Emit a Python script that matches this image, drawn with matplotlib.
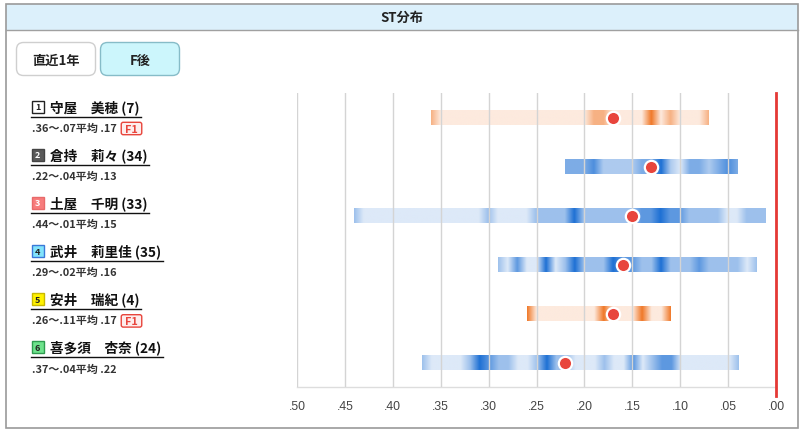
import numpy as np
import matplotlib
matplotlib.use("Agg")
import matplotlib.pyplot as plt
from matplotlib.patches import Rectangle, FancyBboxPatch
import matplotlib.transforms as mtransforms

plt.rcParams['font.family'] = ['Noto Sans CJK JP', 'DejaVu Sans']

# ---------------- data ----------------
lane_numbers = ["1", "2", "3", "4", "5", "6"]
names = ["守屋　美穂", "倉持　莉々", "土屋　千明", "武井　莉里佳", "安井　瑞紀", "喜多須　杏奈"]
starts = [7, 34, 33, 35, 4, 24]
st_slowest = [0.36, 0.22, 0.44, 0.29, 0.26, 0.37]
st_fastest = [0.07, 0.04, 0.01, 0.02, 0.11, 0.04]
st_average = [0.17, 0.13, 0.15, 0.16, 0.17, 0.22]
flying = ["F1", "", "", "", "F1", ""]

st_r1 = [.36, .19, .18, .13, .13, .11, .07]
st_r2 = [.22, .22, .21, .21, .20, .20, .19, .19, .19, .18, .17, .16, .15, .14, .14,
         .13, .13, .12, .12, .12, .12, .11, .09, .09, .08, .08, .07, .06, .06,
         .05, .05, .05, .04, .04]
st_r3 = [.44, .30, .25, .24, .23, .22, .21, .21, .21, .20, .19, .18, .17, .16, .15,
         .14, .14, .13, .13, .12, .12, .12, .11, .11, .10, .10, .09, .08, .07, .06,
         .03, .02, .01]
st_r4 = [.29, .27, .27, .24, .24, .24, .22, .21, .21, .21, .20, .19, .18, .17, .17,
         .17, .16, .16, .15, .15, .14, .13, .12, .12, .12, .11, .10, .09, .08, .08,
         .07, .06, .05, .04, .02]
st_r5 = [.26, .18, .14, .11]
st_r6 = [.37, .32, .31, .31, .31, .30, .30, .29, .28, .25, .24, .24, .24, .23, .22,
         .18, .15, .15, .13, .12, .12, .11, .11, .04]
st_samples = [st_r1, st_r2, st_r3, st_r4, st_r5, st_r6]

x_ticks = [0.50, 0.45, 0.40, 0.35, 0.30, 0.25, 0.20, 0.15, 0.10, 0.05, 0.00]

# ---------------- styles ----------------
box_face = ["#ffffff", "#5a5a5a", "#f77c7c", "#82e3fb", "#fff200", "#6ee38c"]
box_edge = ["#222222", "#444444", "#e86a6a", "#3a78d8", "#c9b800", "#2f9c50"]
box_text = ["#222222", "#ffffff", "#ffffff", "#222222", "#222222", "#222222"]

blue_light = np.array([221, 233, 248]) / 255
blue_dark = np.array([30, 112, 212]) / 255
orange_light = np.array([253, 234, 222]) / 255
orange_dark = np.array([240, 120, 40]) / 255

W, H = 805, 435
fig = plt.figure(figsize=(W / 100, H / 100), dpi=100)

# overlay in pixel coordinates
ov = fig.add_axes([0, 0, 1, 1], zorder=0)
ov.set_xlim(0, W)
ov.set_ylim(H, 0)
ov.axis("off")

# frame + header
ov.add_patch(Rectangle((5.5, 4.5), 792.5, 26, facecolor="#dcf0fb", edgecolor="none"))
ov.add_patch(Rectangle((5.5, 4.5), 792.5, 424.5, facecolor="none", edgecolor="#9a9a9a", lw=1.2))
ov.plot([5.5, 798], [30.5, 30.5], color="#a0a0a0", lw=1.0)
ov.text(402, 17.5, "ST分布", ha="center", va="center", fontsize=9.5, fontweight="bold", color="#222222")

# buttons
ov.add_patch(FancyBboxPatch((16.5, 43.5), 79, 33, boxstyle="round,pad=0,rounding_size=7",
                            facecolor="white", edgecolor="#cfcfcf", lw=1))
ov.text(56, 60.5, "直近1年", ha="center", va="center", fontsize=9.5, fontweight="bold", color="#222222")
ov.add_patch(FancyBboxPatch((100.5, 43.5), 79, 33, boxstyle="round,pad=0,rounding_size=7",
                            facecolor="#ccf6fc", edgecolor="#86bcc8", lw=1))
ov.text(140, 60.5, "F後", ha="center", va="center", fontsize=9.5, fontweight="bold", color="#222222")

# left labels
name_texts, stat_texts = [], []
for i in range(6):
    yc = 107.5 + 48.1 * i
    ov.add_patch(Rectangle((31.5, yc - 6), 12, 12, facecolor=box_face[i], edgecolor=box_edge[i], lw=1))
    ov.text(37.5, yc + 0.3, lane_numbers[i], ha="center", va="center", fontsize=6.5,
            color=box_text[i], fontweight="bold")
    t = ov.text(50, yc, f"{names[i]} ({starts[i]})", ha="left", va="center", fontsize=9.8,
                fontweight="bold", color="#111111")
    name_texts.append(t)
    s = ov.text(31.5, yc + 21.5,
                f".{round(st_slowest[i]*100):02d}〜.{round(st_fastest[i]*100):02d}平均 .{round(st_average[i]*100):02d}",
                ha="left", va="center", fontsize=7.9, fontweight="bold", color="#333333")
    stat_texts.append(s)

fig.canvas.draw()
renderer = fig.canvas.get_renderer()
for i in range(6):
    yc = 107.5 + 48.1 * i
    bb = name_texts[i].get_window_extent(renderer)
    ov.plot([31, bb.x1 + 1.5], [yc + 10.2, yc + 10.2], color="#111111", lw=1.0)
    if flying[i]:
        sb = stat_texts[i].get_window_extent(renderer)
        x0 = sb.x1 + 5
        ov.add_patch(FancyBboxPatch((x0, yc + 15.8), 20.5, 12.4, boxstyle="round,pad=0,rounding_size=2",
                                    facecolor="#fdeded", edgecolor="#e8453c", lw=1))
        ov.text(x0 + 10.25, yc + 22.2, flying[i], ha="center", va="center", fontsize=7.8,
                fontweight="bold", color="#e8453c")

# chart axes
ax = fig.add_axes([297 / W, (H - 388) / H, 479 / W, 294 / H], zorder=1)
ax.patch.set_alpha(0)
ax.set_xlim(0.5, 0.0)
ax.set_ylim(5.5, -0.5)

bar_h = 0.30
for i, samples in enumerate(st_samples):
    hund = np.rint(np.array(samples) * 100).astype(int)
    lo, hi = hund.min(), hund.max()
    counts = np.bincount(hund - lo, minlength=hi - lo + 1).astype(float)
    intens = counts / counts.max()
    stops = np.arange(lo, hi + 1) / 100.0
    xs = np.linspace(lo / 100.0, hi / 100.0, 800)
    v = np.interp(xs, stops, intens)[:, None]
    light, dark = (orange_light, orange_dark) if flying[i] else (blue_light, blue_dark)
    img = light[None, :] + (dark - light)[None, :] * v
    ax.imshow(img[None, :, :], extent=(lo / 100.0, hi / 100.0, i + bar_h / 2, i - bar_h / 2),
              aspect="auto", interpolation="bilinear", zorder=1)

ax.set_xlim(0.5, 0.0)
ax.set_ylim(5.5, -0.5)

ax.set_xticks(x_ticks)
ax.set_xticklabels([f".{round(v*100):02d}" for v in x_ticks])
ax.set_yticks([])
ax.tick_params(axis="x", length=0, pad=9.5, labelsize=8.8, labelcolor="#444444")
for lab in ax.get_xticklabels():
    lab.set_family(["Liberation Sans", "DejaVu Sans"])
ax.set_axisbelow(False)
ax.grid(axis="x", color="#d4d4d4", lw=1.0, zorder=2)
for sp in ["top", "left", "right"]:
    ax.spines[sp].set_visible(False)
ax.spines["bottom"].set_color("#dddddd")
ax.spines["bottom"].set_linewidth(1.0)

trans = mtransforms.blended_transform_factory(ax.transData, ax.transAxes)
ax.plot([0.0, 0.0], [-9 / 294, 1.0], color="#e53935", lw=2.0, transform=trans, clip_on=False, zorder=4)

for i in range(6):
    ax.plot(st_average[i], i, "o", ms=9.6, mfc="#e8453c", mec="white", mew=1.6, zorder=5)

fig.savefig("out.png", dpi=100)
